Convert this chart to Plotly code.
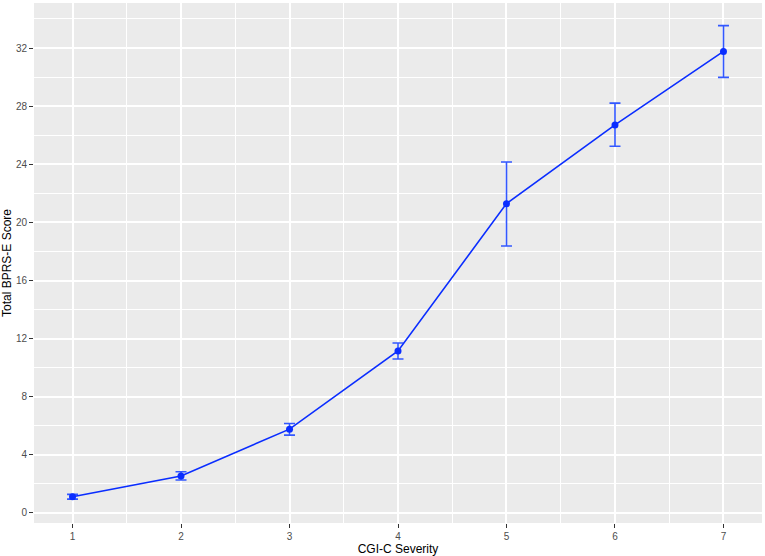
import plotly.graph_objects as go

severity = [1, 2, 3, 4, 5, 6, 7]
mean_score = [1.12, 2.55, 5.77, 11.15, 21.29, 26.71, 31.77]
err_plus = [0.16, 0.29, 0.39, 0.55, 2.87, 1.5, 1.77]
err_minus = [0.17, 0.28, 0.41, 0.55, 2.92, 1.47, 1.79]
y_ticks = [0, 4, 8, 12, 16, 20, 24, 28, 32]

fig = go.Figure()
fig.add_trace(go.Scatter(
    x=severity, y=mean_score, mode="lines+markers",
    line=dict(color="#0a2dff", width=1.6),
    marker=dict(color="#0a2dff", size=7),
    error_y=dict(type="data", symmetric=False, array=err_plus, arrayminus=err_minus,
                 color="#3358ff", thickness=1.6, width=5.5),
    showlegend=False,
))

fig.update_layout(
    width=765, height=556,
    margin=dict(l=34, r=3, t=3, b=33, autoexpand=False),
    paper_bgcolor="white", plot_bgcolor="#EBEBEB",
    font=dict(family="Liberation Sans, Arial, sans-serif", color="#000000"),
)
fig.update_xaxes(
    range=[0.645, 7.355], tickvals=severity, ticktext=[str(s) for s in severity],
    showgrid=True, gridcolor="white", gridwidth=1.6, zeroline=False,
    minor=dict(dtick=0.5, tick0=0.5, showgrid=True, gridcolor="white", gridwidth=0.8),
    ticks="outside", ticklen=4, tickcolor="#333333", tickwidth=1,
    tickfont=dict(size=10, color="#4D4D4D"),
    title=dict(text="CGI-C Severity", font=dict(size=12, color="#000000"), standoff=2),
    showline=False, automargin=False,
)
fig.update_yaxes(
    range=[-0.69, 35.1], tickvals=y_ticks,
    showgrid=True, gridcolor="white", gridwidth=1.6, zeroline=False,
    minor=dict(dtick=4, tick0=2, showgrid=True, gridcolor="white", gridwidth=0.8),
    ticks="outside", ticklen=4, tickcolor="#333333", tickwidth=1,
    tickfont=dict(size=10, color="#4D4D4D"),
    title=dict(text="Total BPRS-E Score", font=dict(size=12, color="#000000"), standoff=4),
    showline=False, automargin=False,
)

fig.write_html("out.html", config={"displayModeBar": False},
               post_script="document.body.style.margin='0';")
